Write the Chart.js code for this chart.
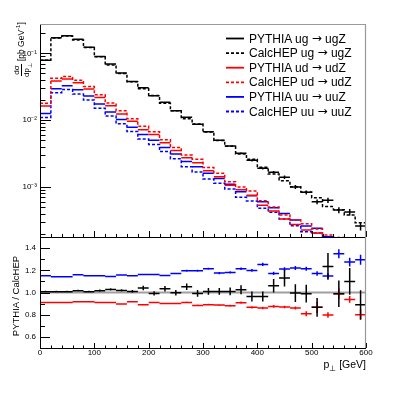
<!DOCTYPE html>
<html>
<head>
<meta charset="utf-8">
<title>PYTHIA / CalcHEP pT</title>
<script src="https://cdn.jsdelivr.net/npm/chart.js@4.4.1/dist/chart.umd.min.js"></script>
<style>
  body { margin: 0; background: #fff; }
  #wrap { position: relative; width: 407px; height: 396px; font-family: "Liberation Sans", Arial, sans-serif; color: #000; }
  #wrap canvas { position: absolute; left: 0; top: 0; }
  .leg { position: absolute; left: 249px; font-size: 12px; line-height: 14px; white-space: nowrap; }
  .arr { font-family: "DejaVu Sans", sans-serif; font-size: 12px; position: relative; top: -1px; }
  .rot { position: absolute; transform-origin: 0 0; transform: rotate(-90deg); white-space: nowrap; }
  .frac { display: inline-flex; flex-direction: column; align-items: center; font-size: 8px; line-height: 9px; margin-right: 2px; }
  .frac .num { border-bottom: 1px solid #000; padding: 0 1px; }
  sub, sup { line-height: 0; }
</style>
</head>
<body>
<div id="wrap">
  <canvas id="topChart" width="407" height="396"></canvas>
  <canvas id="ratioChart" width="407" height="396"></canvas>

  <div class="leg" style="top:32px">PYTHIA ug <span class="arr">→</span> ugZ</div>
  <div class="leg" style="top:46px">CalcHEP ug <span class="arr">→</span> ugZ</div>
  <div class="leg" style="top:61px">PYTHIA ud <span class="arr">→</span> udZ</div>
  <div class="leg" style="top:75px">CalcHEP ud <span class="arr">→</span> udZ</div>
  <div class="leg" style="top:90px">PYTHIA uu <span class="arr">→</span> uuZ</div>
  <div class="leg" style="top:105px">CalcHEP uu <span class="arr">→</span> uuZ</div>

  <div class="rot" style="left:9px;top:77px;width:60px;height:24px;display:flex;align-items:center;font-size:8.5px">
    <span class="frac"><span class="num">dσ</span><span>dp<sub style="font-size:6px">⊥</sub></span></span>
    <span>[pb GeV<sup style="font-size:6px">-1</sup>]</span>
  </div>
  <div class="rot" style="left:10px;top:346px;width:100px;height:12px;line-height:12px;text-align:center;font-size:9.5px">PYTHIA / CalcHEP</div>
  <div style="position:absolute;right:41px;top:358px;font-size:10.5px;white-space:nowrap">p<sub style="font-size:8px">⊥</sub> [GeV]</div>
</div>

<script>
// bin edges in GeV
const binEdges = [0, 20, 40, 60, 80, 100, 120, 140, 160, 180, 200, 220, 240, 260, 280, 300,
                  320, 340, 360, 380, 400, 420, 440, 460, 480, 500, 520, 540, 560, 580, 600];

// d sigma / d pT  [pb/GeV]
const pythiaUg = [0.079, 0.171, 0.183, 0.162, 0.123, 0.090, 0.069, 0.0507, 0.038, 0.0305,
                  0.0232, 0.0185, 0.0138, 0.011, 0.0087, 0.0067, 0.0050, 0.0041, 0.0032, 0.0025,
                  0.0019, 0.00166, 0.0014, 0.0010, 0.00083, 0.0006, 0.00063, 0.00045, 0.00042, 0.00026];
const calchepUg = [0.0785, 0.170, 0.182, 0.159, 0.122, 0.0886, 0.0671, 0.0498, 0.0376, 0.0295,
                   0.0234, 0.0179, 0.0138, 0.01046, 0.00877, 0.00663, 0.00495, 0.00406, 0.00312, 0.00259,
                   0.00197, 0.00156, 0.00124, 0.00101, 0.00084, 0.00069, 0.00051, 0.000455, 0.00038, 0.00029];
const pythiaUd = [0.0163, 0.0384, 0.0412, 0.0362, 0.0293, 0.0219, 0.0164, 0.01236, 0.00963, 0.00721,
                  0.0061, 0.0046, 0.00352, 0.00273, 0.0023, 0.00174, 0.00142, 0.00106, 0.00091, 0.00075,
                  0.000533, 0.000438, 0.00033, 0.000275, 0.000227, 0.000204, 0.000152, 0.000173, 0.000131, 0.000088];
const calchepUd = [0.0179, 0.0422, 0.0452, 0.0395, 0.032, 0.024, 0.018, 0.0138, 0.0105, 0.0081,
                   0.0067, 0.0051, 0.0039, 0.0030, 0.0026, 0.00196, 0.0016, 0.0012, 0.0010, 0.00087,
                   0.00062, 0.0005, 0.00038, 0.00032, 0.00028, 0.000235, 0.00019, 0.000175, 0.00014, 0.00011];
const pythiaUu = [0.0126, 0.0295, 0.0328, 0.0285, 0.023, 0.0174, 0.0132, 0.0102, 0.0078, 0.0061,
                  0.005, 0.0039, 0.0031, 0.0024, 0.0020, 0.0016, 0.00134, 0.0011, 0.00085, 0.00074,
                  0.0006, 0.00049, 0.0004, 0.00032, 0.00026, 0.00024, 0.00018, 0.00016, 0.000125, 0.0001];
const calchepUu = [0.01095, 0.0258, 0.0287, 0.0246, 0.0200, 0.0151, 0.01153, 0.00882, 0.00678, 0.00524,
                   0.0043, 0.00338, 0.00264, 0.00201, 0.00167, 0.00132, 0.00114, 0.00093, 0.0007, 0.000617,
                   0.000479, 0.000418, 0.00033, 0.000262, 0.000214, 0.000205, 0.000157, 0.000119, 0.000098, 0.000077];

// relative stat. errors of the PYTHIA histograms
const errUg = [0.005, 0.005, 0.005, 0.005, 0.005, 0.006, 0.006, 0.007, 0.008, 0.01,
               0.012, 0.014, 0.016, 0.018, 0.02, 0.022, 0.025, 0.028, 0.032, 0.036,
               0.04, 0.045, 0.06, 0.065, 0.07, 0.08, 0.09, 0.1, 0.11, 0.14];
const errUd = [0.003, 0.003, 0.003, 0.003, 0.003, 0.004, 0.004, 0.004, 0.005, 0.005,
               0.006, 0.006, 0.007, 0.008, 0.009, 0.01, 0.011, 0.012, 0.013, 0.014,
               0.016, 0.018, 0.02, 0.022, 0.025, 0.03, 0.03, 0.04, 0.04, 0.05];
const errUu = errUd;

// PYTHIA / CalcHEP
const ratioUg = [1.007, 1.007, 1.007, 1.016, 1.007, 1.016, 1.028, 1.019, 1.01, 1.04,
                 0.992, 1.034, 0.998, 1.052, 0.992, 1.01, 1.01, 1.01, 1.025, 0.965,
                 0.965, 1.061, 1.13, 0.995, 0.989, 0.866, 1.235, 0.989, 1.10, 0.89];
const ratioErrUg = [0.008, 0.008, 0.008, 0.008, 0.008, 0.01, 0.01, 0.01, 0.012, 0.02,
                    0.02, 0.025, 0.025, 0.03, 0.03, 0.03, 0.03, 0.035, 0.04, 0.045,
                    0.045, 0.06, 0.075, 0.08, 0.08, 0.085, 0.12, 0.12, 0.12, 0.13];
const ratioUd = [0.911, 0.911, 0.911, 0.917, 0.917, 0.911, 0.911, 0.896, 0.917, 0.89,
                 0.911, 0.902, 0.902, 0.911, 0.884, 0.89, 0.887, 0.881, 0.908, 0.866,
                 0.86, 0.875, 0.869, 0.86, 0.809, 0.866, 0.798, 0.989, 0.938, 0.80];
const ratioErrUd = [0.004, 0.004, 0.004, 0.004, 0.004, 0.004, 0.004, 0.005, 0.005, 0.005,
                    0.006, 0.006, 0.006, 0.007, 0.007, 0.008, 0.008, 0.009, 0.01, 0.01,
                    0.011, 0.012, 0.012, 0.014, 0.022, 0.05, 0.025, 0.048, 0.03, 0.048];
const ratioUu = [1.151, 1.142, 1.142, 1.16, 1.151, 1.151, 1.145, 1.157, 1.151, 1.163,
                 1.163, 1.154, 1.172, 1.196, 1.196, 1.214, 1.175, 1.181, 1.214, 1.199,
                 1.253, 1.172, 1.211, 1.22, 1.214, 1.172, 1.148, 1.349, 1.274, 1.295];
const ratioErrUu = [0.004, 0.004, 0.004, 0.004, 0.004, 0.004, 0.005, 0.005, 0.005, 0.006,
                    0.006, 0.007, 0.007, 0.008, 0.008, 0.01, 0.01, 0.01, 0.011, 0.012,
                    0.015, 0.015, 0.016, 0.018, 0.018, 0.02, 0.025, 0.04, 0.04, 0.045];

// axes
const xTicks = [0, 100, 200, 300, 400, 500, 600];
const logTicks = [1e-3, 1e-2, 1e-1];
const logTickLabels = ['10⁻³', '10⁻²', '10⁻¹'];
const logMinorTicks = [2e-4, 3e-4, 4e-4, 5e-4, 6e-4, 7e-4, 8e-4, 9e-4,
                       2e-3, 3e-3, 4e-3, 5e-3, 6e-3, 7e-3, 8e-3, 9e-3,
                       2e-2, 3e-2, 4e-2, 5e-2, 6e-2, 7e-2, 8e-2, 9e-2, 2e-1];
const ratioTicks = [0.6, 0.8, 1, 1.2, 1.4];
const ratioMinorTicks = [0.7, 0.9, 1.1, 1.3];

Chart.defaults.font.family = "'Liberation Sans', Arial, sans-serif";
Chart.defaults.color = '#000';

const BLACK = '#000000', RED = '#ff0000', BLUE = '#0000ff', GREY = '#999999';

function stepPoints(vals) {
  const pts = vals.map((v, i) => ({ x: binEdges[i], y: v }));
  pts.push({ x: binEdges[vals.length], y: vals[vals.length - 1] });
  return pts;
}

// horizontal bin bar + vertical error bar for each bin, separated by gaps
function errPoints(vals, errs, relative) {
  const pts = [];
  vals.forEach((v, i) => {
    const lo = binEdges[i], hi = binEdges[i + 1], c = (lo + hi) / 2;
    const e = relative ? v * errs[i] : errs[i];
    pts.push({ x: lo, y: v }, { x: hi, y: v }, { x: c, y: null },
             { x: c, y: v - e }, { x: c, y: v + e }, { x: c, y: null });
  });
  return pts;
}

function histo(label, pts, color, dashed) {
  return {
    label: label,
    data: pts,
    borderColor: color,
    borderWidth: 1.5,
    borderDash: dashed ? [3, 2] : [],
    stepped: dashed ? true : false,
    pointRadius: 0,
    fill: false,
    spanGaps: false,
    tension: 0
  };
}

// inward ticks + frame, ROOT style
function framePlugin(cfg) {
  return {
    id: 'frame',
    afterDatasetsDraw(chart) {
      const { ctx, chartArea: a, scales } = chart;
      const x = scales.x, y = scales.y;
      ctx.save();
      ctx.lineWidth = 1;
      ctx.strokeStyle = BLACK;
      ctx.setLineDash([]);
      const seg = (x1, y1, x2, y2) => { ctx.beginPath(); ctx.moveTo(x1, y1); ctx.lineTo(x2, y2); ctx.stroke(); };
      binEdges.forEach(v => {
        const px = Math.round(x.getPixelForValue(v)) + 0.5;
        const len = xTicks.includes(v) ? cfg.xMajor : cfg.xMinor;
        seg(px, a.bottom, px, a.bottom - len);
      });
      cfg.yMajorVals.forEach(v => {
        const py = Math.round(y.getPixelForValue(v)) + 0.5;
        seg(a.left, py, a.left + cfg.yMajor, py);
      });
      cfg.yMinorVals.forEach(v => {
        const py = Math.round(y.getPixelForValue(v)) + 0.5;
        seg(a.left, py, a.left + cfg.yMinor, py);
      });
      // axes
      seg(a.left + 0.5, a.top, a.left + 0.5, a.bottom + 0.5);
      seg(a.left, a.bottom + 0.5, a.right, a.bottom + 0.5);
      ctx.strokeStyle = GREY;
      ctx.lineWidth = 1.2;
      if (cfg.topEdge) seg(a.left, a.top + 0.5, a.right, a.top + 0.5);
      seg(a.right - 0.5, a.top, a.right - 0.5, a.bottom);
      ctx.restore();
    }
  };
}

// legend line samples
const legendSamples = {
  id: 'legendSamples',
  afterDraw(chart) {
    const ctx = chart.ctx;
    const rows = [
      [BLACK, false], [BLACK, true], [RED, false], [RED, true], [BLUE, false], [BLUE, true]
    ];
    ctx.save();
    rows.forEach((r, i) => {
      const yy = 38.5 + i * 14.6;
      ctx.strokeStyle = r[0];
      ctx.lineWidth = 1.8;
      ctx.setLineDash(r[1] ? [3, 2] : []);
      ctx.beginPath();
      ctx.moveTo(226, yy);
      ctx.lineTo(244, yy);
      ctx.stroke();
    });
    ctx.restore();
  }
};

const topChart = new Chart(document.getElementById('topChart'), {
  type: 'line',
  data: {
    datasets: [
      histo('PYTHIA ug → ugZ', errPoints(pythiaUg, errUg, true), BLACK, false),
      histo('CalcHEP ug → ugZ', stepPoints(calchepUg), BLACK, true),
      histo('PYTHIA ud → udZ', errPoints(pythiaUd, errUd, true), RED, false),
      histo('CalcHEP ud → udZ', stepPoints(calchepUd), RED, true),
      histo('PYTHIA uu → uuZ', errPoints(pythiaUu, errUu, true), BLUE, false),
      histo('CalcHEP uu → uuZ', stepPoints(calchepUu), BLUE, true)
    ]
  },
  options: {
    responsive: false,
    animation: false,
    events: [],
    layout: { padding: { left: 0, top: 24, right: 41, bottom: 159 } },
    plugins: { legend: { display: false }, tooltip: { enabled: false } },
    scales: {
      x: { type: 'linear', min: 0, max: 600, display: false },
      y: {
        type: 'logarithmic',
        min: 1.78e-4,
        max: 0.275,
        afterBuildTicks: (s) => { s.ticks = logTicks.map(v => ({ value: v })); },
        afterFit: (s) => { s.width = 40; },
        grid: { display: false, drawTicks: false },
        border: { display: false },
        ticks: {
          autoSkip: false,
          padding: 3,
          font: { size: 8 },
          callback: (v) => logTickLabels[logTicks.indexOf(v)]
        }
      }
    }
  },
  plugins: [framePlugin({ xMajor: 6, xMinor: 3, yMajor: 11, yMinor: 5.5,
                          yMajorVals: logTicks, yMinorVals: logMinorTicks, topEdge: true }),
            legendSamples]
});

const ratioChart = new Chart(document.getElementById('ratioChart'), {
  type: 'line',
  data: {
    datasets: [
      histo('ug → ugZ', errPoints(ratioUg, ratioErrUg, false), BLACK, false),
      histo('ud → udZ', errPoints(ratioUd, ratioErrUd, false), RED, false),
      histo('uu → uuZ', errPoints(ratioUu, ratioErrUu, false), BLUE, false),
      { label: 'unity', data: [{ x: 0, y: 1 }, { x: 600, y: 1 }], borderColor: 'rgba(160,160,160,1)',
        borderWidth: 2, pointRadius: 0, fill: false }
    ]
  },
  options: {
    responsive: false,
    animation: false,
    events: [],
    layout: { padding: { left: 0, top: 237, right: 41, bottom: 0 } },
    plugins: { legend: { display: false }, tooltip: { enabled: false } },
    scales: {
      x: {
        type: 'linear', min: 0, max: 600,
        afterBuildTicks: (s) => { s.ticks = xTicks.map(v => ({ value: v })); },
        afterFit: (s) => { s.height = 48; },
        grid: { display: false, drawTicks: false },
        border: { display: false },
        ticks: { autoSkip: false, maxRotation: 0, padding: 0, font: { size: 8 } }
      },
      y: {
        type: 'linear', min: 0.5, max: 1.5,
        afterBuildTicks: (s) => { s.ticks = ratioTicks.map(v => ({ value: v })); },
        afterFit: (s) => { s.width = 40; },
        grid: { display: false, drawTicks: false },
        border: { display: false },
        ticks: { autoSkip: false, padding: 4, font: { size: 8 } }
      }
    }
  },
  plugins: [framePlugin({ xMajor: 5, xMinor: 2.5, yMajor: 10, yMinor: 5,
                          yMajorVals: ratioTicks, yMinorVals: ratioMinorTicks, topEdge: false })]
});
</script>
</body>
</html>
